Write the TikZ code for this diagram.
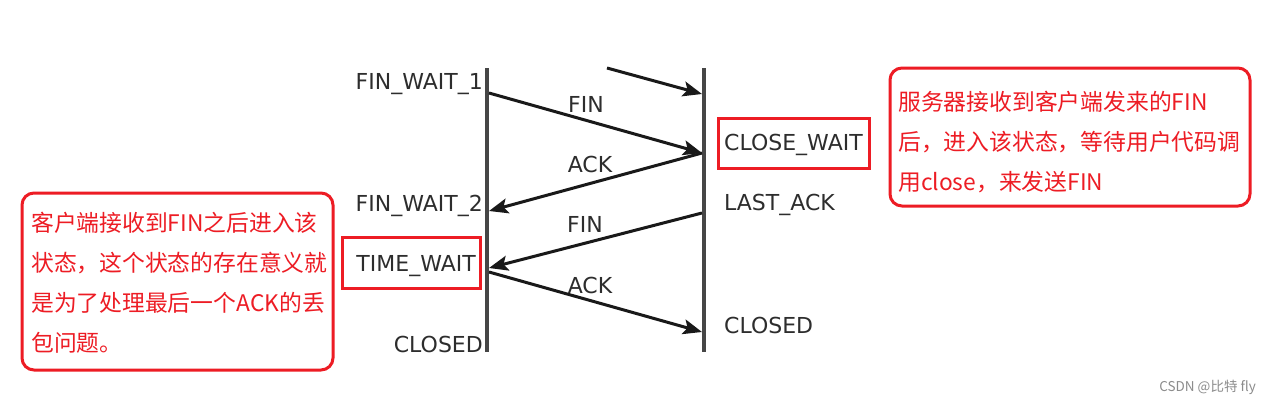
\documentclass[tikz,border=0pt]{standalone}
\usepackage{fontspec}
\setmainfont{DejaVu Sans}
\newfontfamily\cjk{Noto Sans CJK SC}
\usetikzlibrary{arrows.meta}
\definecolor{hlred}{RGB}{237,28,36}
\definecolor{stategray}{RGB}{45,45,45}
\definecolor{linegray}{RGB}{70,70,70}
\begin{document}
\begin{tikzpicture}[x=1pt,y=-1pt,
  state/.style={text=stategray, font=\fontsize{22}{24}\selectfont, inner sep=0pt},
  msglabel/.style={text=stategray, font=\fontsize{22}{24}\selectfont, inner sep=0pt},
  msg/.style={draw=black!90, line width=3pt, -{Stealth[length=19pt,width=15pt,inset=4pt]}},
  lifeline/.style={draw=linegray, line width=3.8pt},
  hlbox/.style={draw=hlred, line width=3pt, inner sep=0pt},
  callout/.style={draw=hlred, line width=3pt, rounded corners=12pt, inner sep=0pt},
  note/.style={text=hlred, font=\cjk\fontsize{22.8}{40}\selectfont, align=left, inner sep=0pt, anchor=north west}]
\useasboundingbox (0,0) rectangle (1270,405);
\fill[white] (0,0) rectangle (1270,405);

% lifelines
\coordinate (Lt) at (487,68);
\coordinate (Lb) at (487,352);
\coordinate (Rt) at (704,68);
\coordinate (Rb) at (704,352);
\draw[lifeline] (Lt) -- (Lb);
\draw[lifeline] (Rt) -- (Rb);

% message endpoints
\coordinate (m0s) at (607,68);
\coordinate (m0e) at (702,94);
\coordinate (m1s) at (489,93);
\coordinate (m1e) at (702,153);
\coordinate (m2s) at (702,153);
\coordinate (m2e) at (489,211);
\coordinate (m3s) at (702,213);
\coordinate (m3e) at (489,268);
\coordinate (m4s) at (489,272);
\coordinate (m4e) at (702,332);

\draw[msg] (m0s) -- (m0e);
\draw[msg] (m1s) -- (m1e);
\draw[msg] (m2s) -- (m2e);
\draw[msg] (m3s) -- (m3e);
\draw[msg] (m4s) -- (m4e);

% message labels
\node[msglabel] (lfin1) at (586,104) {FIN};
\node[msglabel] (lack1) at (590,164) {ACK};
\node[msglabel] (lfin2) at (585,224) {FIN};
\node[msglabel] (lack2) at (590,285) {ACK};

% client states
\node[state, anchor=east] (fw1) at (483,84) {FIN\_WAIT\_1};
\node[state, anchor=east] (fw2) at (483,206) {FIN\_WAIT\_2};
\node[state, anchor=east] (tw) at (476,266) {TIME\_WAIT};
\node[state, anchor=east] (cl1) at (483,344) {CLOSED};

% server states
\node[state, anchor=west] (cw) at (724,145) {CLOSE\_WAIT};
\node[state, anchor=west] (la) at (724,205) {LAST\_ACK};
\node[state, anchor=west] (cl2) at (724,325) {CLOSED};

% highlight boxes
\node[hlbox, minimum width=151pt, minimum height=50pt] (cwbox) at (793.5,143) {};
\node[hlbox, minimum width=138pt, minimum height=51pt] (twbox) at (411,262.5) {};

% callouts
\node[callout, minimum width=360pt, minimum height=138pt] (rnote) at (1070,137) {};
\node[note] (rtext) at (898,91) {服务器接收到客户端发来的FIN\\后，进入该状态，等待用户代码调\\用close，来发送FIN};

\node[callout, minimum width=311pt, minimum height=177pt] (lnote) at (177.5,281.5) {};
\node[note] (ltext) at (31,212) {客户端接收到FIN之后进入该\\状态，这个状态的存在意义就\\是为了处理最后一个ACK的丢\\包问题。};

% watermark
\node[text=black!45, font=\cjk\fontsize{13.5}{15}\selectfont, inner sep=0pt, anchor=east] (wm) at (1256,387) {CSDN @比特 fly};
\end{tikzpicture}
\end{document}
